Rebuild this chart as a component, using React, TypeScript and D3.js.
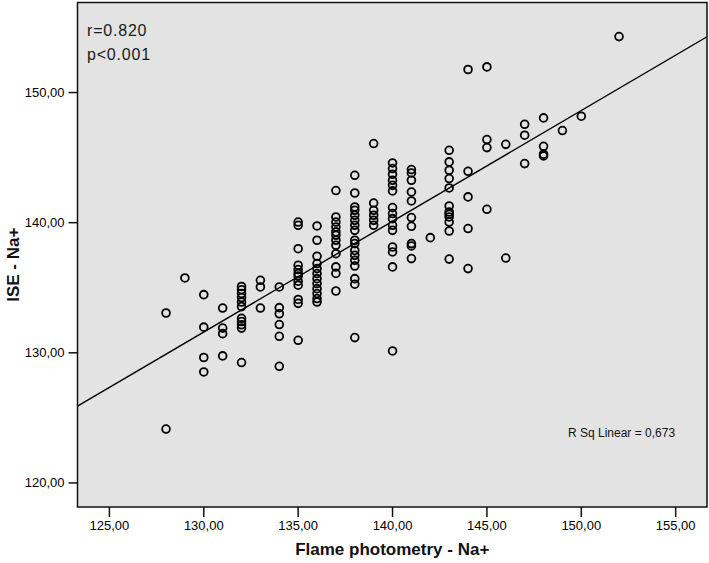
import React from "react";
import * as d3 from "d3";

const flame: number[] = [
  128, 128,
  129,
  130, 130, 130, 130,
  131, 131, 131, 131,
  132, 132, 132, 132, 132, 132, 132, 132, 132, 132, 132,
  133, 133, 133,
  134, 134, 134, 134, 134, 134,
  135, 135, 135, 135, 135, 135, 135, 135, 135, 135, 135, 135,
  136, 136, 136, 136, 136, 136, 136, 136, 136, 136, 136, 136,
  137, 137, 137, 137, 137, 137, 137, 137, 137, 137, 137, 137,
  138, 138, 138, 138, 138, 138, 138, 138, 138, 138, 138, 138, 138, 138, 138, 138, 138,
  139, 139, 139, 139, 139, 139,
  140, 140, 140, 140, 140, 140, 140, 140, 140, 140, 140, 140, 140, 140, 140,
  141, 141, 141, 141, 141, 141, 141, 141, 141, 141,
  142,
  143, 143, 143, 143, 143, 143, 143, 143, 143, 143, 143, 143,
  144, 144, 144, 144, 144,
  145, 145, 145, 145,
  146, 146,
  147, 147, 147,
  148, 148, 148, 148,
  149,
  150,
  152,
];

const ise: number[] = [
  133.06, 124.14,
  135.75,
  134.47, 131.97, 129.64, 128.53,
  133.44, 131.9, 131.47, 129.76,
  135.1, 134.85, 134.55, 134.25, 133.9, 133.55, 132.65, 132.4, 132.15, 131.9, 129.25,
  135.57, 135.06, 133.44,
  135.06, 133.47, 133.0, 132.17, 131.27, 128.96,
  140.05, 139.8, 138.0, 136.73, 136.4, 136.1, 135.9, 135.5, 135.2, 134.1, 133.8, 130.96,
  139.75, 138.65, 137.42, 136.86, 136.47, 136.09, 135.7, 135.32, 134.93, 134.55, 134.17, 133.9,
  142.47, 140.44, 140.05, 139.67, 139.29, 139.03, 138.65, 138.26, 137.62, 136.6, 136.1, 134.75,
  143.64, 142.28, 141.21, 140.95, 140.57, 140.18, 139.8, 139.41, 138.65, 138.39, 137.87, 137.49, 137.11, 136.67, 135.7, 135.27, 131.17,
  146.08, 141.51, 140.95, 140.57, 140.18, 139.8,
  144.59, 144.16, 143.72, 143.26, 142.87, 142.44, 141.16, 140.7, 140.31, 139.8, 139.41, 138.13, 137.75, 136.6, 130.14,
  144.08, 143.82, 143.26, 142.36, 141.67, 140.39, 139.72, 138.39, 138.21, 137.24,
  138.85,
  145.56, 144.67, 144.03, 143.39, 142.67, 141.28, 140.82, 140.65, 140.44, 140.05, 139.36, 137.2,
  151.77, 143.95, 141.98, 139.55, 136.47,
  151.97, 146.39, 145.77, 141.03,
  146.02, 137.28,
  147.56, 146.72, 144.54,
  148.05, 145.87, 145.26, 145.13,
  147.08,
  148.18,
  154.3,
];

const xTicks: number[] = [125, 130, 135, 140, 145, 150, 155];
const yTicks: number[] = [120, 130, 140, 150];
const xDomain: [number, number] = [123.31, 156.66];
const yDomain: [number, number] = [118.15, 156.92];
const fitIntercept = 20.97;
const fitSlope = 0.851;
const annotations: string[] = ["r=0.820", "p<0.001"];
const rsqLabel = "R Sq Linear = 0,673";
const xTitle = "Flame photometry - Na+";
const yTitle = "ISE - Na+";

const W = 709;
const H = 563;
const plot = { left: 77.5, right: 707, top: 2.5, bottom: 507 };
const FONT = "'Liberation Sans', Arial, Helvetica, sans-serif";
const fmt = (v: number) => v.toFixed(2).replace(".", ",");

export default function App() {
  const x = d3.scaleLinear().domain(xDomain).range([plot.left, plot.right]);
  const y = d3.scaleLinear().domain(yDomain).range([plot.bottom, plot.top]);
  const lineGen = d3
    .line<number>()
    .x((d) => x(d))
    .y((d) => y(fitIntercept + fitSlope * d));
  const points = flame.map((f, i) => ({ f, v: ise[i] }));

  return (
    <div style={{ position: "fixed", left: 0, top: 0, width: W, height: H, background: "#fff" }}>
      <svg width={W} height={H} style={{ display: "block" }}>
        <defs>
          <clipPath id="plotclip">
            <rect x={plot.left} y={plot.top} width={plot.right - plot.left} height={plot.bottom - plot.top} />
          </clipPath>
        </defs>
        <rect
          x={plot.left}
          y={plot.top}
          width={plot.right - plot.left}
          height={plot.bottom - plot.top}
          fill="#e3e3e3"
        />
        <g clipPath="url(#plotclip)">
          {points.map((p, i) => (
            <circle
              key={i}
              cx={x(p.f)}
              cy={y(p.v)}
              r={3.9}
              fill="none"
              stroke="#000"
              strokeWidth={1.8}
            />
          ))}
          <path d={lineGen(xDomain) || ""} fill="none" stroke="#000" strokeWidth={1.4} />
        </g>
        <rect
          x={plot.left}
          y={plot.top}
          width={plot.right - plot.left}
          height={plot.bottom - plot.top}
          fill="none"
          stroke="#111"
          strokeWidth={1.5}
        />
        {xTicks.map((t) => (
          <g key={"xt" + t}>
            <line x1={x(t)} x2={x(t)} y1={plot.bottom} y2={plot.bottom + 10} stroke="#111" strokeWidth={1.5} />
            <text
              x={x(t)}
              y={plot.bottom + 23}
              textAnchor="middle"
              fontFamily={FONT}
              fontSize={13}
              fill="#000"
            >
              {fmt(t)}
            </text>
          </g>
        ))}
        {yTicks.map((t) => (
          <g key={"yt" + t}>
            <line x1={plot.left - 9} x2={plot.left} y1={y(t)} y2={y(t)} stroke="#111" strokeWidth={1.5} />
            <text
              x={plot.left - 13}
              y={y(t) + 4.5}
              textAnchor="end"
              fontFamily={FONT}
              fontSize={13}
              fill="#000"
            >
              {fmt(t)}
            </text>
          </g>
        ))}
        <text
          x={(plot.left + plot.right) / 2}
          y={555}
          textAnchor="middle"
          fontFamily={FONT}
          fontSize={17}
          fontWeight="bold"
          fill="#111"
        >
          {xTitle}
        </text>
        <text
          transform={`translate(19, ${(plot.top + plot.bottom) / 2 + 10}) rotate(-90)`}
          textAnchor="middle"
          fontFamily={FONT}
          fontSize={17}
          fontWeight="bold"
          fill="#111"
        >
          {yTitle}
        </text>
        {annotations.map((a, i) => (
          <text
            key={a}
            x={87}
            y={36 + i * 23.5}
            fontFamily={FONT}
            fontSize={16}
            letterSpacing={0.8}
            fill="#1a1a1a"
          >
            {a}
          </text>
        ))}
        <text x={568} y={437} fontFamily={FONT} fontSize={12} fill="#111">
          {rsqLabel}
        </text>
      </svg>
    </div>
  );
}
